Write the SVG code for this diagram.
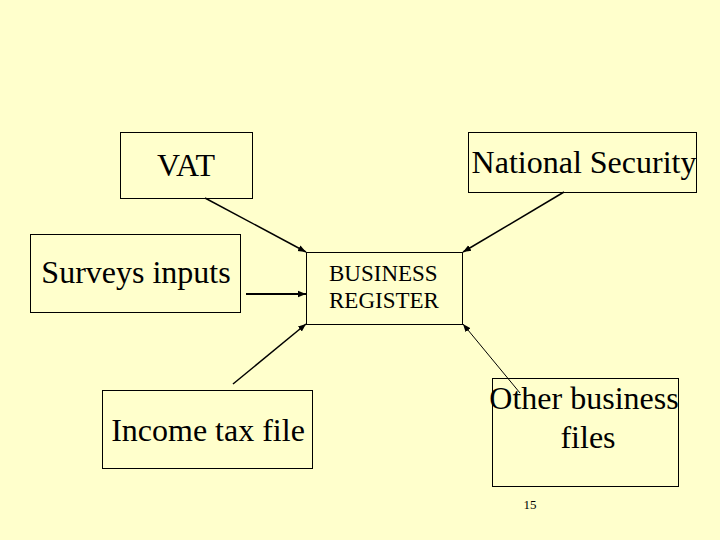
<svg xmlns="http://www.w3.org/2000/svg" width="720" height="540" viewBox="0 0 720 540">
<style>
.box{fill:none;stroke:#000;stroke-width:1}
text{font-family:'Liberation Serif','Times New Roman',Times,serif;fill:#000}
.big{font-size:32px}
.mid{font-size:23px}
.c{stroke:#000;fill:none}
</style>
<defs>
<marker id="ah" viewBox="0 0 10 10" refX="10" refY="5" markerWidth="8" markerHeight="8" markerUnits="userSpaceOnUse" orient="auto">
<path d="M0,1 L10,5 L0,9 Z" fill="#000"/>
</marker>
</defs>
<rect width="720" height="540" fill="#FFFFCC"/>
<g id="vat"><rect class="box" x="120.5" y="132.5" width="132" height="66"/><text class="big" x="186" y="176" text-anchor="middle">VAT</text></g>
<g id="natsec"><rect class="box" x="468.5" y="132.5" width="228" height="60"/><text class="big" x="584" y="173" text-anchor="middle">National Security</text></g>
<g id="surveys"><rect class="box" x="30.5" y="234.5" width="210" height="78"/><text class="big" x="136" y="283" text-anchor="middle">Surveys inputs</text></g>
<g id="register"><rect class="box" x="306.5" y="252.5" width="156" height="72"/><text class="mid" x="329" y="281">BUSINESS</text><text class="mid" x="329" y="308">REGISTER</text></g>
<g id="income"><rect class="box" x="102.5" y="390.5" width="210" height="78"/><text class="big" x="208" y="441" text-anchor="middle">Income tax file</text></g>
<g id="other"><rect class="box" x="492.5" y="378.5" width="186" height="108"/><text class="big" x="584" y="409" text-anchor="middle">Other business</text><text class="big" x="588" y="448" text-anchor="middle">files</text></g>
<text x="530" y="509" font-size="13" text-anchor="middle">15</text>
<g id="connectors">
<line class="c" stroke-width="1.5" x1="205" y1="198" x2="306" y2="252" marker-end="url(#ah)"/>
<line class="c" stroke-width="2" x1="246" y1="294" x2="306" y2="294" marker-end="url(#ah)"/>
<line class="c" stroke-width="1.5" x1="233" y1="384" x2="306" y2="324" marker-end="url(#ah)"/>
<line class="c" stroke-width="1.5" x1="564" y1="192" x2="463" y2="252" marker-end="url(#ah)"/>
<line class="c" stroke-width="1" x1="520" y1="393" x2="463" y2="324" marker-end="url(#ah)"/>
</g>
</svg>
